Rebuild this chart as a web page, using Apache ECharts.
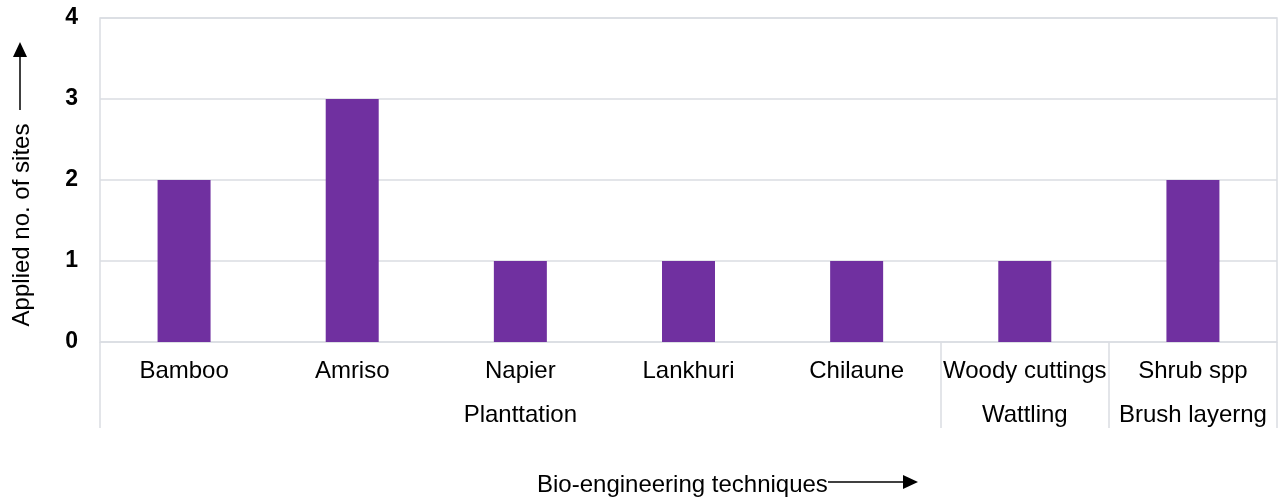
<!DOCTYPE html>
<html>
<head>
<meta charset="utf-8">
<script src="https://cdn.jsdelivr.net/npm/echarts@6/dist/echarts.min.js"></script>
<style>
html,body{margin:0;padding:0;background:#fff;}
#chart{width:1281px;height:501px;}
</style>
</head>
<body>
<div id="chart"></div>
<script>
const categories = ['Bamboo', 'Amriso', 'Napier', 'Lankhuri', 'Chilaune', 'Woody cuttings', 'Shrub spp'];
const values = [2, 3, 1, 1, 1, 1, 2];
const groupNames = ['Planttation', 'Wattling', 'Brush layerng'];
const groupSizes = [5, 1, 1];
const yTicks = [0, 1, 2, 3, 4];
const yTitle = 'Applied no. of sites';
const xTitle = 'Bio-engineering techniques';

const FONT = '"Liberation Sans", Arial, sans-serif';
const GRID_COLOR = '#dadde2';

// group boundaries & centers derived from sizes
const bounds = [0];
groupSizes.forEach(s => bounds.push(bounds[bounds.length - 1] + s));
const centers = groupSizes.map((s, i) => bounds[i] + s / 2);

const chart = echarts.init(document.getElementById('chart'));
chart.setOption({
  animation: false,
  backgroundColor: '#fff',
  grid: {
    left: 100, right: 4, top: 18, bottom: 159,
    show: true, borderColor: GRID_COLOR, borderWidth: 1.5
  },
  xAxis: [
    {
      type: 'category',
      data: categories,
      axisLine: { show: false },
      axisTick: { show: false },
      axisLabel: { color: '#000', fontFamily: FONT, fontSize: 24, margin: 17, interval: 0 }
    },
    {
      type: 'value',
      min: 0, max: bounds[bounds.length - 1],
      position: 'bottom',
      axisLine: { show: false },
      splitLine: { show: false },
      axisTick: {
        show: true, customValues: bounds, length: 86,
        lineStyle: { color: GRID_COLOR, width: 1.5 }
      },
      axisLabel: {
        customValues: centers,
        formatter: v => {
          const i = centers.indexOf(v);
          return i >= 0 ? groupNames[i] : '';
        },
        color: '#000', fontFamily: FONT, fontSize: 24, margin: 61,
        showMinLabel: true, showMaxLabel: true
      }
    }
  ],
  yAxis: {
    type: 'value',
    min: yTicks[0], max: yTicks[yTicks.length - 1], interval: 1,
    axisLine: { show: false },
    axisTick: { show: false },
    splitLine: { show: true, lineStyle: { color: GRID_COLOR, width: 1.5 } },
    axisLabel: { color: '#000', fontFamily: FONT, fontSize: 23, fontWeight: 'bold', margin: 22, padding: [7, 0, 0, 0] }
  },
  series: [{
    type: 'bar',
    data: values,
    barWidth: 53,
    itemStyle: { color: '#7030A0' }
  }],
  graphic: [
    {
      type: 'text',
      x: 22, y: 225, rotation: Math.PI / 2,
      style: { text: yTitle, fontFamily: FONT, fontSize: 24, fill: '#000', align: 'center', verticalAlign: 'middle' }
    },
    { type: 'line', shape: { x1: 20, y1: 110, x2: 20, y2: 55 }, style: { stroke: '#000', lineWidth: 1.5 } },
    { type: 'polygon', shape: { points: [[20, 42], [13, 57], [27, 57]] }, style: { fill: '#000' } },
    {
      type: 'text',
      x: 537, y: 485,
      style: { text: xTitle, fontFamily: FONT, fontSize: 24, fill: '#000', align: 'left', verticalAlign: 'middle' }
    },
    { type: 'line', shape: { x1: 828, y1: 482, x2: 905, y2: 482 }, style: { stroke: '#000', lineWidth: 1.5 } },
    { type: 'polygon', shape: { points: [[918, 482], [903, 475], [903, 489]] }, style: { fill: '#000' } }
  ]
});
</script>
</body>
</html>
